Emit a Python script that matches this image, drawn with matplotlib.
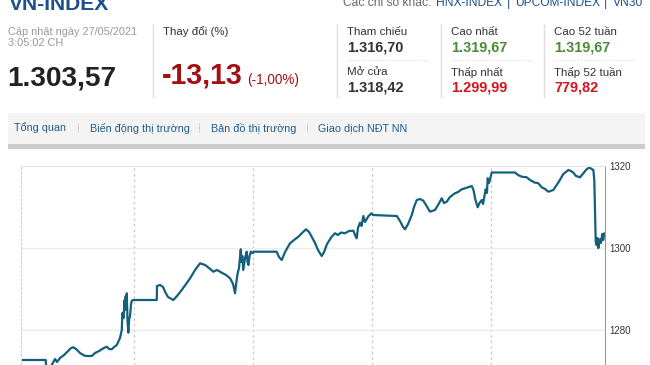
import matplotlib
matplotlib.use("Agg")
import matplotlib.pyplot as plt

plt.rcParams['font.family'] = ['Liberation Sans', 'DejaVu Sans']

# ---- data ----
# time in trading sessions (day boundaries at 1, 2, 3, 4)
t = [0.050, 0.258, 0.261, 0.294, 0.319, 0.336, 0.353, 0.378, 0.412, 0.445,
     0.471, 0.490, 0.513, 0.546, 0.580, 0.603, 0.645, 0.672, 0.706, 0.742,
     0.771, 0.790, 0.813, 0.832, 0.855, 0.882, 0.897, 0.902, 0.912, 0.920,
     0.924, 0.930, 0.934, 0.939, 0.945, 0.952, 0.960, 0.966, 0.975, 0.981,
     0.994, 1.191, 1.193, 1.218, 1.244, 1.261, 1.286, 1.330, 1.361, 1.401,
     1.437, 1.471, 1.513, 1.555, 1.597, 1.630, 1.666, 1.697, 1.737, 1.773,
     1.807, 1.832, 1.849, 1.857, 1.868, 1.882, 1.897, 1.903, 1.910, 1.918,
     1.933, 1.947, 1.954, 1.961, 1.971, 1.981, 1.997, 2.004, 2.199, 2.218,
     2.241, 2.269, 2.311, 2.345, 2.381, 2.412, 2.445, 2.471, 2.493, 2.521,
     2.546, 2.577, 2.597, 2.622, 2.661, 2.689, 2.714, 2.739, 2.773, 2.807,
     2.843, 2.861, 2.871, 2.882, 2.899, 2.912, 2.927, 2.941, 2.955, 2.971,
     2.997, 3.008, 3.208, 3.235, 3.261, 3.277, 3.303, 3.334, 3.353, 3.376,
     3.403, 3.431, 3.454, 3.487, 3.529, 3.555, 3.586, 3.605, 3.628, 3.655,
     3.697, 3.723, 3.754, 3.790, 3.838, 3.853, 3.866, 3.877, 3.888, 3.903,
     3.922, 3.933, 3.955, 3.966, 3.972, 3.983, 3.992, 4.006, 4.202, 4.227,
     4.258, 4.300, 4.328, 4.370, 4.395, 4.426, 4.454, 4.482, 4.524, 4.546,
     4.570, 4.608, 4.650, 4.672, 4.692, 4.714, 4.748, 4.776, 4.798, 4.824,
     4.860, 4.868, 4.874, 4.880, 4.887, 4.895, 4.902, 4.908, 4.916, 4.924,
     4.935, 4.943, 4.952]
index = [1272.78, 1272.78, 1271.08, 1270.83, 1272.12, 1273.02, 1272.29, 1273.27, 1274.00, 1274.97,
         1275.70, 1275.87, 1275.46, 1274.48, 1273.88, 1273.75, 1273.75, 1274.48, 1274.97, 1275.63,
         1276.02, 1275.46, 1275.39, 1275.94, 1276.43, 1278.14, 1280.08, 1284.22, 1283.00, 1287.38,
         1284.95, 1288.36, 1285.92, 1289.02, 1282.52, 1279.43, 1283.00, 1283.32, 1286.41, 1287.21,
         1287.38, 1287.38, 1290.79, 1291.04, 1290.55, 1289.33, 1288.11, 1287.38, 1288.36, 1289.82,
         1291.28, 1292.67, 1294.69, 1296.32, 1295.90, 1295.17, 1294.27, 1294.69, 1294.03, 1293.47,
         1292.67, 1291.28, 1289.02, 1291.04, 1293.47, 1295.17, 1299.72, 1296.63, 1298.09, 1294.69,
         1297.61, 1299.14, 1296.63, 1295.90, 1298.09, 1299.14, 1298.75, 1299.14, 1299.14, 1297.85,
         1297.12, 1299.07, 1301.19, 1301.99, 1302.79, 1303.69, 1304.59, 1303.94, 1302.79, 1301.26,
         1299.55, 1298.09, 1299.07, 1301.01, 1302.79, 1303.62, 1303.21, 1303.81, 1303.62, 1304.18,
         1304.25, 1302.96, 1302.40, 1304.91, 1306.20, 1305.40, 1307.83, 1306.37, 1307.03, 1307.83,
         1308.49, 1308.07, 1307.83, 1306.61, 1305.15, 1304.59, 1305.88, 1308.07, 1310.02, 1311.72,
         1311.97, 1311.55, 1310.51, 1308.88, 1309.29, 1310.51, 1312.14, 1310.99, 1311.31, 1312.45,
         1313.36, 1313.67, 1314.33, 1314.65, 1315.13, 1314.16, 1312.14, 1310.99, 1309.95, 1310.99,
         1311.72, 1310.75, 1314.33, 1313.43, 1317.01, 1315.86, 1316.76, 1318.42, 1318.42, 1317.81,
         1317.40, 1317.25, 1316.59, 1315.94, 1315.86, 1314.82, 1314.40, 1313.74, 1314.16, 1315.13,
         1316.18, 1318.05, 1319.03, 1318.78, 1318.37, 1317.57, 1317.25, 1318.22, 1319.03, 1319.67,
         1319.03, 1316.59, 1309.29, 1301.57, 1300.77, 1302.48, 1299.99, 1301.50, 1302.16, 1301.26,
         1303.45, 1301.99, 1303.57]
y_ticks = [1280, 1300, 1320]
day_lines = [1, 2, 3, 4]

tabs = ['Tổng quan', 'Biến động thị trường', 'Bản đồ thị trường', 'Giao dịch NĐT NN']
stats = [('Tham chiếu', '1.316,70', '#333333'), ('Mở cửa', '1.318,42', '#333333'),
         ('Cao nhất', '1.319,67', '#4b8b3b'), ('Thấp nhất', '1.299,99', '#d4141b'),
         ('Cao 52 tuần', '1.319,67', '#4b8b3b'), ('Thấp 52 tuần', '779,82', '#d4141b')]

W, H = 650, 365
fig = plt.figure(figsize=(W / 100, H / 100), dpi=100)
fig.patch.set_facecolor('white')


def px(x, y):
    return x / W, 1 - y / H


def txt(x, y, s, size, color='#333333', weight='normal', ha='left', va='center'):
    fx, fy = px(x, y)
    fig.text(fx, fy, s, fontsize=size * 0.72, color=color, fontweight=weight, ha=ha, va=va)


def hline(x0, x1, y, color, lw=1, ls='-'):
    fig.add_artist(plt.Line2D([x0 / W, x1 / W], [1 - y / H] * 2, color=color, lw=lw, ls=ls))


def vline(x, y0, y1, color, lw=1):
    fig.add_artist(plt.Line2D([x / W] * 2, [1 - y0 / H, 1 - y1 / H], color=color, lw=lw))


# ---- header ----
txt(9, 10, 'VN-INDEX', 21, '#1c4f8c', 'bold', va='baseline')
txt(343, 6, 'Các chỉ số khác:', 12, '#666666', va='baseline')
txt(436, 6, 'HNX-INDEX', 12, '#1c4f8c', va='baseline')
txt(507, 6, '|', 12, '#1c4f8c', va='baseline')
txt(515, 6, 'UPCOM-INDEX', 12, '#1c4f8c', va='baseline')
txt(604, 6, '|', 12, '#1c4f8c', va='baseline')
txt(613, 6, 'VN30', 12, '#1c4f8c', va='baseline')

txt(8, 32, 'Cập nhật ngày 27/05/2021', 11, '#9a9a9a')
txt(8, 43, '3:05:02 CH', 11, '#9a9a9a')
txt(7, 85, '1.303,57', 28, '#222222', 'bold', va='baseline')

vline(153, 25, 97, '#dddddd')
txt(163, 32, 'Thay đổi (%)', 11.5, '#333333')
txt(162, 84, '-13,13', 28.5, '#a50f14', 'bold', va='baseline')
txt(247, 84, '(-1,00%)', 13.5, '#a50f14', va='baseline')

for i, sx in enumerate([337, 441, 544]):
    vline(sx, 25, 97, '#dddddd')
    for j in range(2):
        label, val, col = stats[2 * i + j]
        yy = 32 + 40 * j
        txt(sx + 10, yy, label, 11.5, '#333333')
        txt(sx + 10, yy + 16, val, 14.5, col, 'bold')
    hline(sx + 10, sx + 92, 60, '#d8d8d8', 0.8, ':')

# ---- tab bar ----
fig.add_artist(plt.Rectangle(px(8, 149), 637 / W, 36 / H, color='#f4f4f4', lw=0))
fig.add_artist(plt.Rectangle(px(8, 149), 637 / W, 5 / H, color='#cccccc', lw=0))
tab_x = [14, 90, 211, 318]
sep_x = [77, 198, 306]
for s, x in zip(tabs, tab_x):
    txt(x, 128, s, 10.8, '#1f5b8e')
for x in sep_x:
    txt(x, 128, '|', 11.5, '#cccccc')

# ---- chart ----
ax = fig.add_axes([21 / W, 0, (605 - 21) / W, (365 - 166) / H])
ax.plot(t, index, color='#135f7c', lw=1.6, solid_joinstyle='round')
ax.set_xlim(0.050, 4.958)
ax.set_ylim(1271.56, 1320)
for d in day_lines:
    ax.axvline(d, color='#cfcfcf', lw=1, ls=(0, (2, 2)), zorder=0)
for v in y_ticks[:-1]:
    ax.axhline(v, color='#ebebeb', lw=1, zorder=0)
ax.spines['top'].set_color('#e3e3e3')
ax.spines['left'].set_color('#cfcfcf')
ax.spines['left'].set_linestyle((0, (2, 2)))
ax.spines['right'].set_color('#9a9a9a')
ax.spines['bottom'].set_visible(False)
ax.set_xticks([])
ax.yaxis.tick_right()
ax.set_yticks(y_ticks)
ax.set_yticklabels([str(v) for v in y_ticks])
ax.tick_params(axis='y', length=0, pad=3, labelsize=7, labelcolor='#333333')

fig.savefig('out.png', dpi=100)
